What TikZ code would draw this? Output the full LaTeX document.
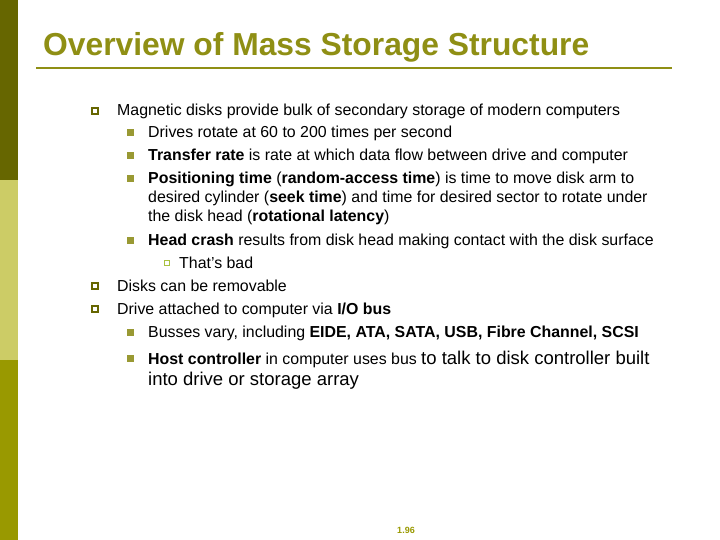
\documentclass[tikz,border=0pt]{standalone}
\usepackage{fontspec}
\setmainfont{Liberation Sans}
\definecolor{darkol}{HTML}{666600}
\definecolor{lightol}{HTML}{CCCC66}
\definecolor{midol}{HTML}{999900}
\definecolor{titlecol}{HTML}{8F8F14}
\definecolor{bul}{HTML}{999933}
\definecolor{bulthree}{HTML}{A8C040}
\begin{document}
\begin{tikzpicture}[x=1pt,y=-1pt,
  txt/.style={anchor=base west,inner sep=0pt,font=\fontsize{15.9}{19}\selectfont},
  bone/.style={draw=darkol,line width=1.6pt,minimum size=6pt,inner sep=0pt},
  btwo/.style={fill=bul,minimum size=7pt,inner sep=0pt},
  bthree/.style={draw=bulthree,line width=1.4pt,minimum size=5pt,inner sep=0pt}]
\useasboundingbox (0,0) rectangle (720,540);
\fill[white] (0,0) rectangle (720,540);
\fill[darkol] (0,0) rectangle (18,180);
\fill[lightol] (0,180) rectangle (18,360);
\fill[midol] (0,360) rectangle (18,540);
\node[anchor=base west,inner sep=0pt,text=titlecol,font=\fontsize{31.8}{36}\bfseries\selectfont] (title) at (43,56) {Overview of Mass Storage Structure};
\draw[titlecol,line width=1.8pt] (36,68) coordinate (l1) -- (672,68) coordinate (l2);
\node[bone] (b1) at (95,111) {};
\node[txt] (t1) at (117,116) {Magnetic disks provide bulk of secondary storage of modern computers};
\node[btwo] (b2) at (130,133) {};
\node[txt] (t2) at (148,138) {Drives rotate at 60 to 200 times per second};
\node[btwo] (b3) at (130,156) {};
\node[txt] (t3) at (148,161) {\textbf{Transfer rate} is rate at which data flow between drive and computer};
\node[btwo] (b4) at (130,179) {};
\node[txt] (t4) at (148,184) {\textbf{Positioning time} (\textbf{random-access time}) is time to move disk arm to};
\node[txt] (t4b) at (148,203) {desired cylinder (\textbf{seek time}) and time for desired sector to rotate under};
\node[txt] (t4c) at (148,222) {the disk head (\textbf{rotational latency})};
\node[btwo] (b5) at (130,240) {};
\node[txt] (t5) at (148,245) {\textbf{Head crash} results from disk head making contact with the disk surface};
\node[bthree] (b6) at (167,263) {};
\node[txt] (t6) at (179,268) {That’s bad};
\node[bone] (b7) at (95,286) {};
\node[txt] (t7) at (117,291) {Disks can be removable};
\node[bone] (b8) at (95,309) {};
\node[txt] (t8) at (117,314) {Drive attached to computer via \textbf{I/O bus}};
\node[btwo] (b9) at (130,332) {};
\node[txt] (t9) at (148,337) {Busses vary, including \textbf{EIDE, ATA, SATA, USB, Fibre Channel, SCSI}};
\node[btwo] (b10) at (130,358) {};
\node[txt] (t10) at (148,364) {\textbf{Host controller} in computer uses bus {\fontsize{18.5}{22}\selectfont to talk to disk controller built}};
\node[txt,font=\fontsize{18.5}{22}\selectfont] (t10b) at (148,385) {into drive or storage array};
\node[anchor=base,inner sep=0pt,text=midol,font=\fontsize{9}{10}\bfseries\selectfont] (pg) at (406,533) {1.96};
\end{tikzpicture}
\end{document}
